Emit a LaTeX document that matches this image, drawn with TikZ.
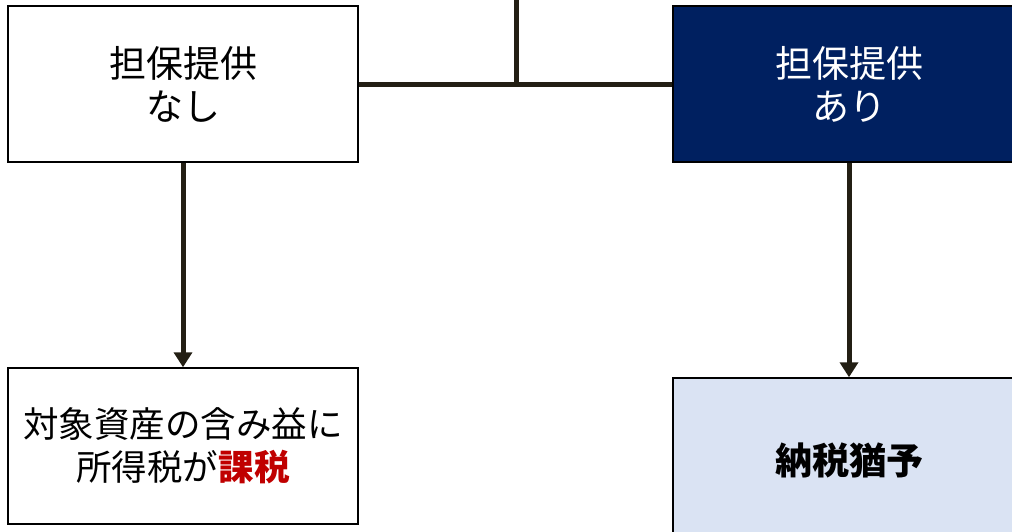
\documentclass[tikz,border=0pt]{standalone}
\usepackage{fontspec}
\setmainfont{Noto Sans CJK JP}
\usetikzlibrary{arrows.meta}
\definecolor{navy}{HTML}{002060}
\definecolor{paleblue}{HTML}{DAE3F3}
\definecolor{taxred}{HTML}{C00000}
\definecolor{linec}{HTML}{231F14}
\begin{document}
\begin{tikzpicture}[x=1pt,y=-1pt,
  box/.style={draw=black, line width=1.5pt, minimum width=350pt, minimum height=156pt, inner sep=0pt, align=center, font=\fontsize{37}{43}\selectfont},
  conn/.style={draw=linec, line width=5pt},
  tip/.style={-{Triangle[width=18pt,length=15pt]}}]
\useasboundingbox (0,0) rectangle (1012,531);
\clip (0,0) rectangle (1012,531);
\node[box, fill=white] (L) at (183,84) {担保提供\\なし};
\node[box, fill=navy, text=white, minimum width=352pt] (R) at (849,84) {担保提供\\あり};
\node[box, fill=white, font=\fontsize{35.5}{43}\selectfont] (LB) at (183,446) {対象資産の含み益に\\所得税が\textcolor{taxred}{\bfseries 課税}};
\node[box, fill=paleblue, minimum width=352pt, minimum height=164pt, font=\fontsize{37}{43}\bfseries\selectfont] (RB) at (849,460) {納税猶予};
\coordinate (top) at (516,0);
\draw[conn] (top) -- (top |- L.east);
\draw[conn] (L.east) -- (R.west);
\draw[conn, tip] (L.south) -- (LB.north);
\draw[conn, tip] (R.south) -- (RB.north);
\end{tikzpicture}
\end{document}
